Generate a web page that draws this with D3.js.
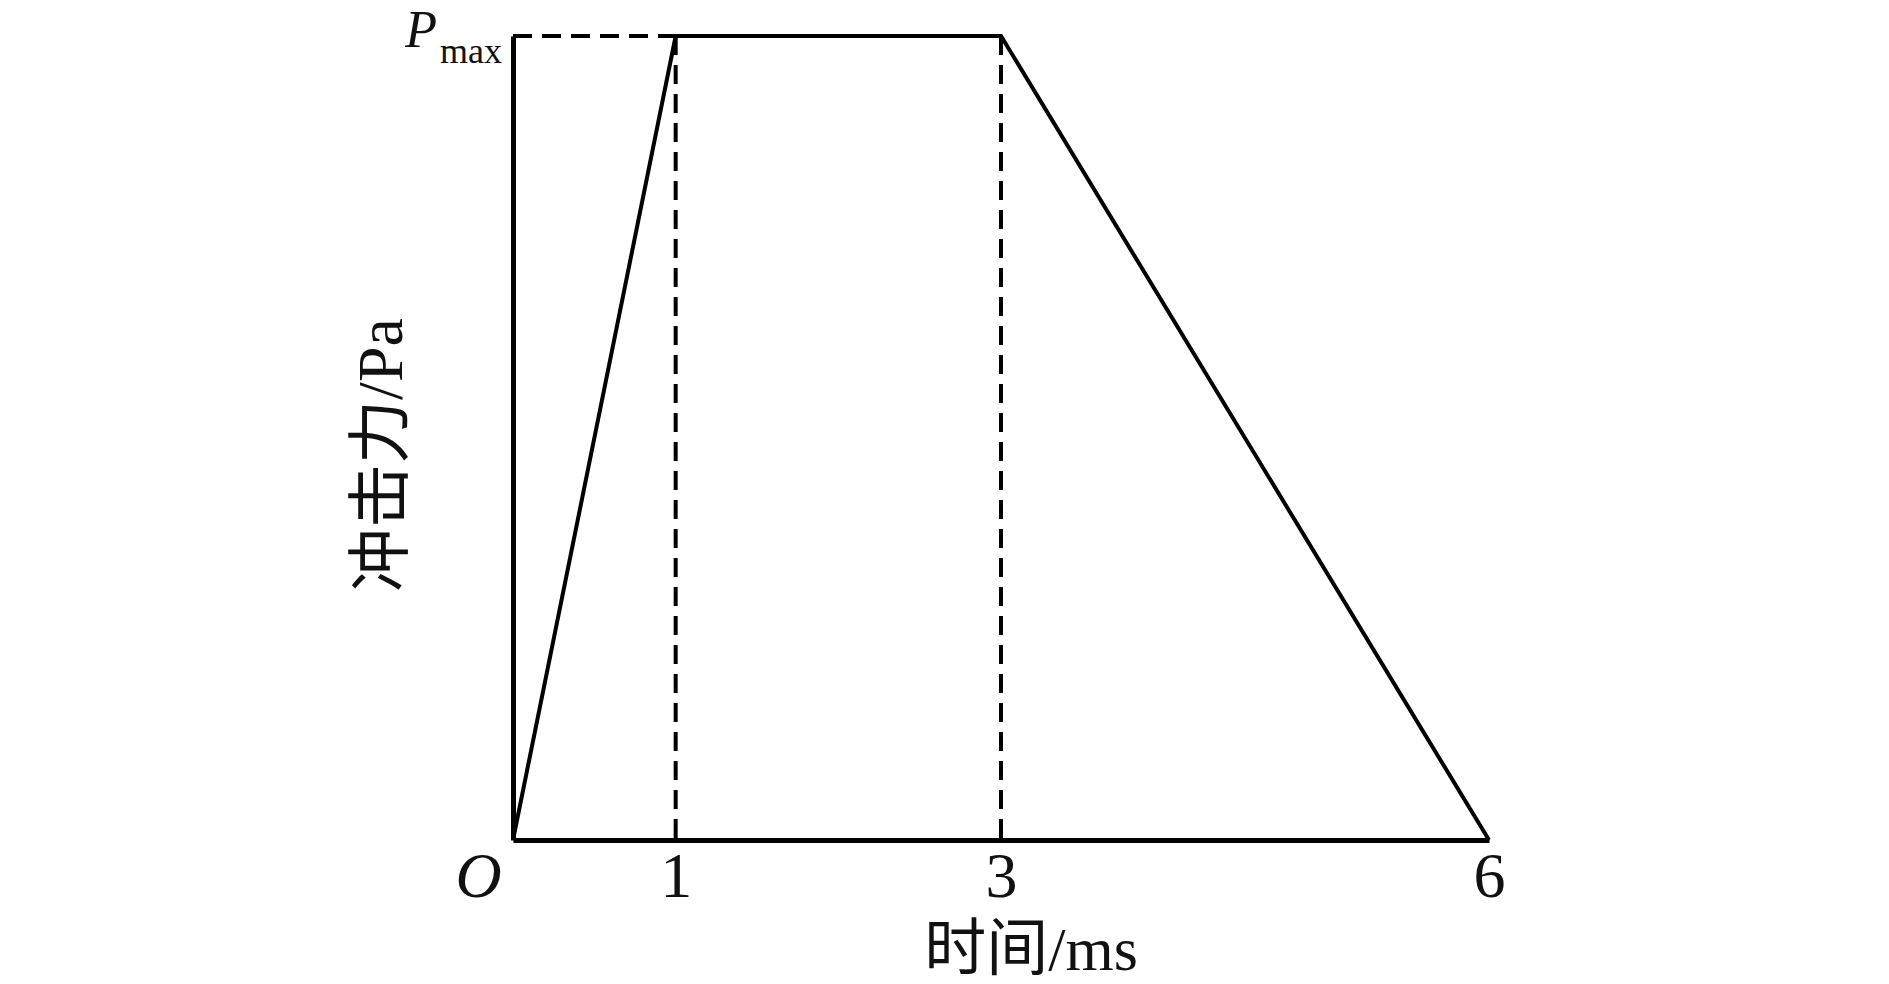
<!DOCTYPE html>
<html>
<head>
<meta charset="utf-8">
<script src="https://cdn.jsdelivr.net/npm/d3@7"></script>
<style>
    body { margin: 0; background: #fff; }
    svg { display: block; }
    .axis text { font-family: "Liberation Serif", "Times New Roman", serif; fill: #111; }
    .lbl { font-family: "Liberation Serif", "Noto Sans CJK SC", serif; fill: #111; }
</style>
</head>
<body>
<div id="chart"></div>
<script>
// load pulse: time (ms) vs impact force as a fraction of Pmax
const timeMs = [0, 1, 3, 6];
const force = [0, 1, 1, 0];
const guideTimes = [1, 3];
const xTicks = [0, 1, 3, 6];
const xTickLabels = ["O", "1", "3", "6"];
const yTicks = [1];
const xTitle = "时间/ms";
const yTitle = "冲击力/Pa";

class PulseChart {
    constructor(parentElement) {
        this.parentElement = parentElement;
        this.initVis();
    }

    initVis() {
        let vis = this;

        vis.width = 1889;
        vis.height = 984;

        vis.svg = d3.select("#" + vis.parentElement).append("svg")
            .attr("width", vis.width)
            .attr("height", vis.height);

        vis.x = d3.scaleLinear().domain([0, 6]).range([513, 1489]);
        vis.y = d3.scaleLinear().domain([0, 1]).range([840, 36]);

        vis.updateVis();
    }

    updateVis() {
        let vis = this;

        // dashed guides
        let guides = vis.svg.append("g")
            .attr("fill", "none")
            .attr("stroke", "#000")
            .attr("stroke-width", 4)
            .attr("stroke-dasharray", "19,10");

        guides.selectAll(".vguide")
            .data(guideTimes)
            .enter().append("line")
            .attr("class", "vguide")
            .attr("x1", d => vis.x(d))
            .attr("x2", d => vis.x(d))
            .attr("y1", vis.y(1))
            .attr("y2", vis.y(0));

        guides.append("line")
            .attr("x1", vis.x(0))
            .attr("x2", vis.x(guideTimes[0]))
            .attr("y1", vis.y(1))
            .attr("y2", vis.y(1));

        // x axis
        let xAxis = d3.axisBottom(vis.x)
            .tickValues(xTicks)
            .tickSize(0)
            .tickSizeOuter(0)
            .tickFormat((d, i) => xTickLabels[i]);

        let gx = vis.svg.append("g")
            .attr("class", "axis")
            .attr("transform", "translate(0," + vis.y(0) + ")")
            .call(xAxis);
        gx.select(".domain").attr("stroke", "#000").attr("stroke-width", 5);
        gx.selectAll("text")
            .attr("font-size", 64)
            .attr("y", 57)
            .attr("dy", 0)
            .attr("x", (d) => d === 0 ? -35 : 0)
            .attr("font-style", (d) => d === 0 ? "italic" : "normal");

        // y axis
        let yAxis = d3.axisLeft(vis.y)
            .tickValues(yTicks)
            .tickSize(0)
            .tickSizeOuter(0)
            .tickFormat(() => "");

        let gy = vis.svg.append("g")
            .attr("class", "axis")
            .attr("transform", "translate(" + vis.x(0) + ",0)")
            .call(yAxis);
        gy.select(".domain").attr("stroke", "#000").attr("stroke-width", 5);
        let yt = gy.selectAll(".tick text")
            .attr("x", -11)
            .attr("y", 10)
            .attr("dy", 0)
            .attr("text-anchor", "end");
        yt.append("tspan")
            .attr("font-size", 52)
            .attr("font-style", "italic")
            .text("P");
        yt.append("tspan")
            .attr("font-size", 36)
            .attr("dx", 3)
            .attr("dy", 16)
            .text("max");

        // the pulse
        let line = d3.line()
            .x((d, i) => vis.x(timeMs[i]))
            .y(d => vis.y(d));

        vis.svg.append("path")
            .datum(force)
            .attr("fill", "none")
            .attr("stroke", "#000")
            .attr("stroke-width", 4)
            .attr("stroke-linejoin", "miter")
            .attr("d", line);

        // axis titles
        vis.svg.append("text")
            .attr("class", "lbl")
            .attr("x", 1031)
            .attr("y", 970)
            .attr("text-anchor", "middle")
            .attr("font-size", 62)
            .text(xTitle);

        vis.svg.append("text")
            .attr("class", "lbl")
            .attr("transform", "translate(402,455) rotate(-90)")
            .attr("text-anchor", "middle")
            .attr("font-size", 64)
            .text(yTitle);
    }
}

new PulseChart("chart");
</script>
</body>
</html>
